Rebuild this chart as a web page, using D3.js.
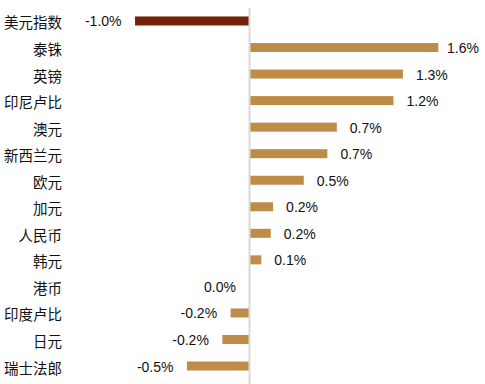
<!DOCTYPE html>
<html>
<head>
<meta charset="utf-8">
<script src="https://cdn.jsdelivr.net/npm/d3@7"></script>
<style>
  html, body { margin: 0; padding: 0; background: #fff; }
  svg { display: block; }
</style>
</head>
<body>
<svg id="chart" width="485" height="384"></svg>
<script>
const categories = ["美元指数", "泰铢", "英镑", "印尼卢比", "澳元", "新西兰元", "欧元", "加元", "人民币", "韩元", "港币", "印度卢比", "日元", "瑞士法郎"];
const values = [-0.97, 1.60, 1.30, 1.22, 0.74, 0.66, 0.46, 0.20, 0.18, 0.10, 0.00, -0.16, -0.23, -0.53];
const highlight = ["美元指数"];

const W = 485, H = 384;
const svg = d3.select("#chart");

const x = d3.scaleLinear().domain([-2, 2]).range([13.5, 485.5]);
const y = d3.scaleBand().domain(categories).range([7.7, 379.3]).padding(0);
const barH = 9;

const fmt = v => (v < 0 && Math.abs(v) >= 0.05 ? "-" : "") + Math.abs(v).toFixed(1) + "%";

// bars
svg.append("g").selectAll("rect").data(categories).join("rect")
  .attr("x", (d, i) => x(Math.min(0, values[i])))
  .attr("width", (d, i) => Math.abs(x(values[i]) - x(0)))
  .attr("y", d => y(d) + y.bandwidth() / 2 - barH / 2)
  .attr("height", barH)
  .attr("fill", d => highlight.includes(d) ? "#752008" : "#bf8c48");

// zero axis line
svg.append("line")
  .attr("x1", x(0)).attr("x2", x(0))
  .attr("y1", 8).attr("y2", H)
  .attr("stroke", "#d9d9d9").attr("stroke-width", 2);

// category labels
svg.append("g").selectAll("text").data(categories).join("text")
  .attr("x", 62)
  .attr("y", d => y(d) + y.bandwidth() / 2 + 1)
  .attr("text-anchor", "end")
  .attr("dominant-baseline", "central")
  .attr("font-family", "'Noto Sans CJK SC', sans-serif")
  .attr("font-size", "14.5px")
  .attr("fill", "#111")
  .text(d => d);

// value labels
svg.append("g").selectAll("text").data(categories).join("text")
  .attr("x", (d, i) => {
    const v = values[i];
    if (v > 0) return Math.min(x(v) + 13, W - 38);
    return x(v) - 13.5;
  })
  .attr("y", d => y(d) + y.bandwidth() / 2 + 0.5)
  .attr("text-anchor", (d, i) => values[i] > 0 ? "start" : "end")
  .attr("dominant-baseline", "central")
  .attr("font-family", "'Liberation Sans', Arial, sans-serif")
  .attr("font-size", "14px")
  .attr("fill", "#111")
  .text((d, i) => fmt(values[i]));
</script>
</body>
</html>
